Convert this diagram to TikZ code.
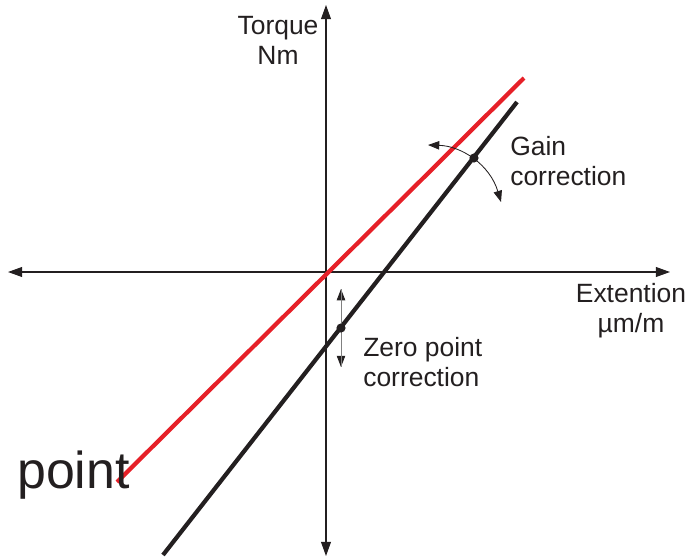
\documentclass[tikz,border=0pt]{standalone}
\usepackage{fontspec}
\setmainfont{Liberation Sans}
\usetikzlibrary{arrows.meta,positioning}
\definecolor{linered}{RGB}{230,32,40}
\definecolor{lineblack}{RGB}{35,31,32}

\begin{document}
\begin{tikzpicture}[x=0.025cm,y=-0.025cm,
  axis/.style={line width=0.8pt, lineblack, {Triangle[length=10pt,width=7pt]}-{Triangle[length=10pt,width=7pt]}},
  graph/.style={line width=3pt},
  dot/.style={circle, fill=lineblack, inner sep=0pt, minimum size=6.5pt},
  lbl/.style={font=\fontsize{18.8}{21.3}\selectfont, text=lineblack, inner sep=0pt},
  corr/.style={line width=0.6pt, lineblack, {Triangle[length=8pt,width=6pt]}-{Triangle[length=8pt,width=6pt]}}]
\useasboundingbox (0,0) rectangle (700,560);
% Axes
\coordinate (xl) at (8,272);
\coordinate (xr) at (670,272);
\coordinate (yt) at (326,5);
\coordinate (yb) at (326,556);
\draw[axis] (xl) -- (xr);
\draw[axis] (yt) -- (yb);
\node[lbl, align=center] (torque) at (278,40) {Torque\\Nm};
\node[lbl, align=center] (ext) at (631,311) {Extention\\µm/m};
% Ideal and measured lines
\coordinate (r0) at (117,482);
\coordinate (r1) at (524,78);
\coordinate (b0) at (163,555);
\coordinate (b1) at (517,102);
\draw[graph, linered] (r0) -- (r1);
\draw[graph, lineblack] (b0) -- (b1);
% Zero point correction
\coordinate (zt) at (341,289);
\coordinate (zb) at (341,367);
\draw[corr] (zt) -- (zb);
\draw[gray, line width=0.6pt] (zt) -- (zb);
\node[lbl, align=left, anchor=west] (zlbl) at (363,362) {Zero point\\correction};
% Gain correction
\coordinate (ga) at (428,145);
\coordinate (gb) at (501,202);
\draw[corr] (ga) .. controls (462,146) and (490,165) .. (gb);
\node[lbl, align=left, anchor=west] (glbl) at (510,161) {Gain\\correction};
% Points on the measured line
\node[dot] (zp) at (341,328) {};
\node[dot] (gp) at (474,158) {};
\node[inner sep=0pt, anchor=base west, text=lineblack, font=\fontsize{36.9}{40}\selectfont] (pt) at (17,488) {point};
\end{tikzpicture}
\end{document}
